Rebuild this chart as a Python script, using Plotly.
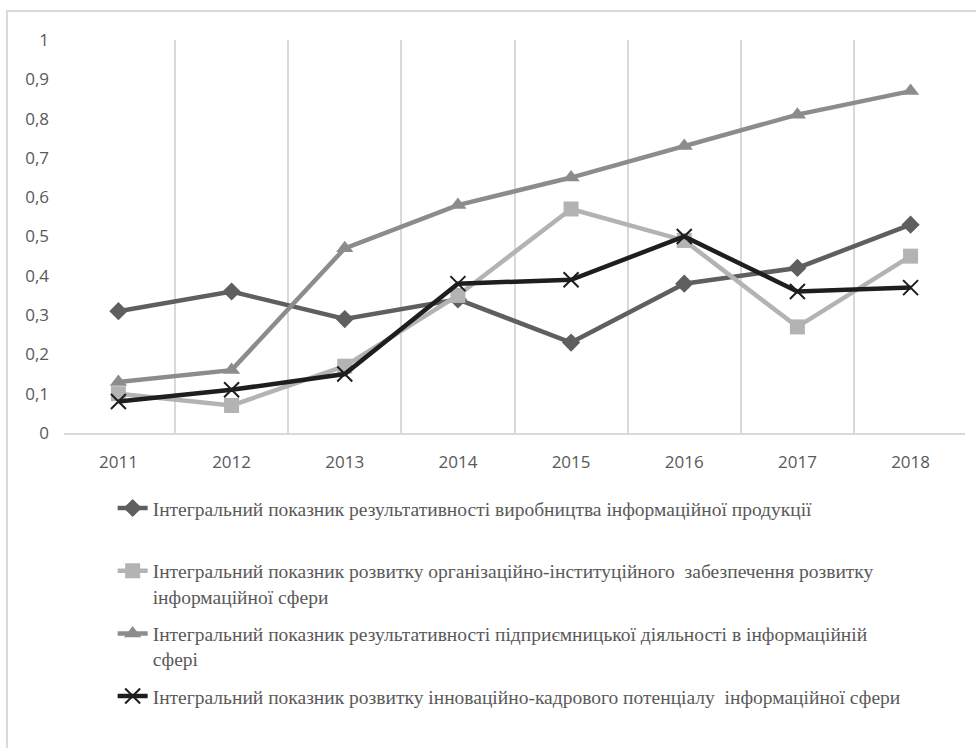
import plotly.graph_objects as go

years = ["2011", "2012", "2013", "2014", "2015", "2016", "2017", "2018"]

names = [
    "Інтегральний показник результативності виробництва інформаційної продукції<br> ",
    "Інтегральний показник розвитку організаційно-інституційного  забезпечення розвитку<br>інформаційної сфери",
    "Інтегральний показник результативності підприємницької діяльності в інформаційній<br>сфері",
    "Інтегральний показник розвитку інноваційно-кадрового потенціалу  інформаційної сфери",
]

s_production = [0.31, 0.36, 0.29, 0.34, 0.23, 0.38, 0.42, 0.53]
s_institutional = [0.10, 0.07, 0.17, 0.35, 0.57, 0.49, 0.27, 0.45]
s_entrepreneur = [0.13, 0.16, 0.47, 0.58, 0.65, 0.73, 0.81, 0.87]
s_innovation = [0.08, 0.11, 0.15, 0.38, 0.39, 0.50, 0.36, 0.37]

y_tickvals = [0, 0.1, 0.2, 0.3, 0.4, 0.5, 0.6, 0.7, 0.8, 0.9, 1.0]
y_ticktext = ["0", "0,1", "0,2", "0,3", "0,4", "0,5", "0,6", "0,7", "0,8", "0,9", "1"]

series = [s_production, s_institutional, s_entrepreneur, s_innovation]
colors = ["#5f5f5f", "#b3b3b3", "#8c8c8c", "#1e1e1e"]
symbols = ["diamond", "square", "triangle-up", "x-thin"]
sizes = [14, 15, 15, 15]

fig = go.Figure()
for i, (vals, nm, c, sym, sz) in enumerate(zip(series, names, colors, symbols, sizes)):
    marker = dict(symbol=sym, size=sz, color=c)
    if sym == "x-thin":
        marker["line"] = dict(color=c, width=2)
    fig.add_trace(go.Scatter(
        x=years, y=vals, name=nm, mode="lines+markers", legendgroup=f"g{i}",
        line=dict(color=c, width=4.5), marker=marker,
    ))

fig.update_layout(
    width=976, height=748,
    margin=dict(l=64, r=11, t=40, b=315),
    paper_bgcolor="white", plot_bgcolor="white",
    showlegend=True,
    legend=dict(
        x=0.054, y=-0.142, xanchor="left", yanchor="top",
        font=dict(family="Times New Roman", size=19.5, color="#595959"),
        valign="top", tracegroupgap=9,
        bgcolor="rgba(0,0,0,0)",
    ),
    xaxis=dict(
        type="category", tickson="boundaries", showgrid=True,
        gridcolor="#d9d9d9", gridwidth=1.5, showline=True, linecolor="#d9d9d9",
        linewidth=1.5, ticks="", ticklabelstandoff=13,
        tickfont=dict(family="Open Sans", size=17, color="#595959"),
        zeroline=False, mirror=False,
    ),
    yaxis=dict(
        range=[0, 1], tickvals=y_tickvals, ticktext=y_ticktext,
        showgrid=False, zeroline=False, showline=False, ticks="",
        ticklabelstandoff=14,
        tickfont=dict(family="Open Sans", size=17, color="#595959"),
    ),
    shapes=[dict(
        type="rect", xref="paper", yref="paper",
        x0=-0.0633, x1=1.02, y0=-0.83, y1=1.0738,
        line=dict(color="#d9d9d9", width=2), layer="below",
    )],
)

fig.write_html("out.html", config={"displayModeBar": False},
               post_script="document.body.style.margin='0';")
